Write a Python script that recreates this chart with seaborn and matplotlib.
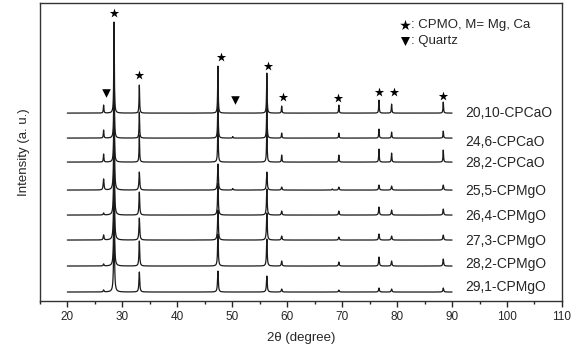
import numpy as np
import pandas as pd
import matplotlib
matplotlib.use('Agg')
import matplotlib.pyplot as plt
import seaborn as sns
from matplotlib.ticker import MultipleLocator

sns.set_style('ticks')
plt.rcParams['font.family'] = ['Liberation Sans', 'DejaVu Sans']

# samples, top to bottom
samples = ['20,10-CPCaO', '24,6-CPCaO', '28,2-CPCaO', '25,5-CPMgO',
           '26,4-CPMgO', '27,3-CPMgO', '28,2-CPMgO', '29,1-CPMgO']
offsets = [188, 163, 139, 111, 86, 61, 35, 9]
label_y = [188, 159, 138, 110, 85, 60, 37, 14]
peak_width = [0.12, 0.12, 0.12, 0.17, 0.16, 0.17, 0.16, 0.17]

# peak positions (2theta) and heights read per sample
peak_pos = [26.6, 28.5, 33.1, 47.4, 50.1, 56.3, 59.0, 68.2, 69.4, 76.7, 79.0, 88.4]
peak_h = {
    '20,10-CPCaO': [8, 91, 28, 47, 0, 40, 7, 0, 8, 13, 9, 11],
    '24,6-CPCaO':  [8, 85, 26, 45, 1.5, 38, 5, 0, 5, 9, 6, 7],
    '28,2-CPCaO':  [8, 88, 27, 46, 0, 39, 7, 0, 7, 13, 9, 12],
    '25,5-CPMgO':  [11, 80, 18, 26, 1.5, 18, 3, 1, 3, 5, 4, 5],
    '26,4-CPMgO':  [2, 85, 23, 32, 0, 26, 4, 0, 4, 8, 5, 6],
    '27,3-CPMgO':  [5, 85, 22, 30, 0, 27, 4, 0, 3, 6, 4, 5],
    '28,2-CPMgO':  [2, 85, 25, 32, 0, 27, 5, 0, 4, 9, 5, 7],
    '29,1-CPMgO':  [2, 80, 20, 21, 0, 16, 3, 0, 2, 4, 3, 4],
}

# phase markers
star_x = [28.5, 33.1, 48.0, 56.5, 59.3, 69.3, 76.7, 79.5, 88.4]
star_y = [288, 226, 244, 235, 204, 203, 209, 209, 205]
tri_x = [27.1, 50.5]
tri_y = [208, 201]

two_theta = np.arange(20, 90.001, 0.02)
rows = []
for s, off, w in zip(samples, offsets, peak_width):
    y = np.full_like(two_theta, off, dtype=float)
    for p, h in zip(peak_pos, peak_h[s]):
        y += h / (1 + ((two_theta - p) / (w / 2)) ** 2)
    rows.append(pd.DataFrame({'two_theta': two_theta, 'intensity': y, 'sample': s}))
df = pd.concat(rows, ignore_index=True)

fig = plt.figure(figsize=(5.86, 3.48), dpi=100)
ax = fig.add_axes([0.068, 0.135, 0.891, 0.856])

for s in samples:
    sns.lineplot(data=df[df['sample'] == s], x='two_theta', y='intensity',
                 color='#1a1a1a', lw=0.9, ax=ax, estimator=None)

for s, ly in zip(samples, label_y):
    ax.text(92.4, ly, s, fontsize=10, ha='left', va='center')

ax.scatter(star_x, star_y, marker='*', s=50, color='black', zorder=5, linewidths=0)
ax.scatter(tri_x, tri_y, marker='v', s=38, color='black', zorder=5, linewidths=0)

# legend
ax.scatter([81.5], [276], marker='*', s=65, color='black', linewidths=0)
ax.scatter([81.5], [260], marker='v', s=42, color='black', linewidths=0)
ax.text(82.6, 276, ': CPMO, M= Mg, Ca', fontsize=9.5, va='center')
ax.text(82.6, 260, ': Quartz', fontsize=9.5, va='center')

ax.set_xlim(15, 110)
ax.set_ylim(0, 298)
ax.xaxis.set_major_locator(MultipleLocator(10))
ax.xaxis.set_minor_locator(MultipleLocator(5))
ax.set_yticks([])
ax.tick_params(axis='x', which='major', length=4, width=1, labelsize=8.5, direction='out')
ax.tick_params(axis='x', which='minor', length=2.5, width=1, direction='out')
for sp in ax.spines.values():
    sp.set_linewidth(1)
    sp.set_color('#333333')

ax.set_xlabel('2θ (degree)', fontsize=9.5, labelpad=6)
ax.set_ylabel('Intensity (a. u.)', fontsize=9.5, labelpad=7)

plt.savefig('out.png', dpi=100)
